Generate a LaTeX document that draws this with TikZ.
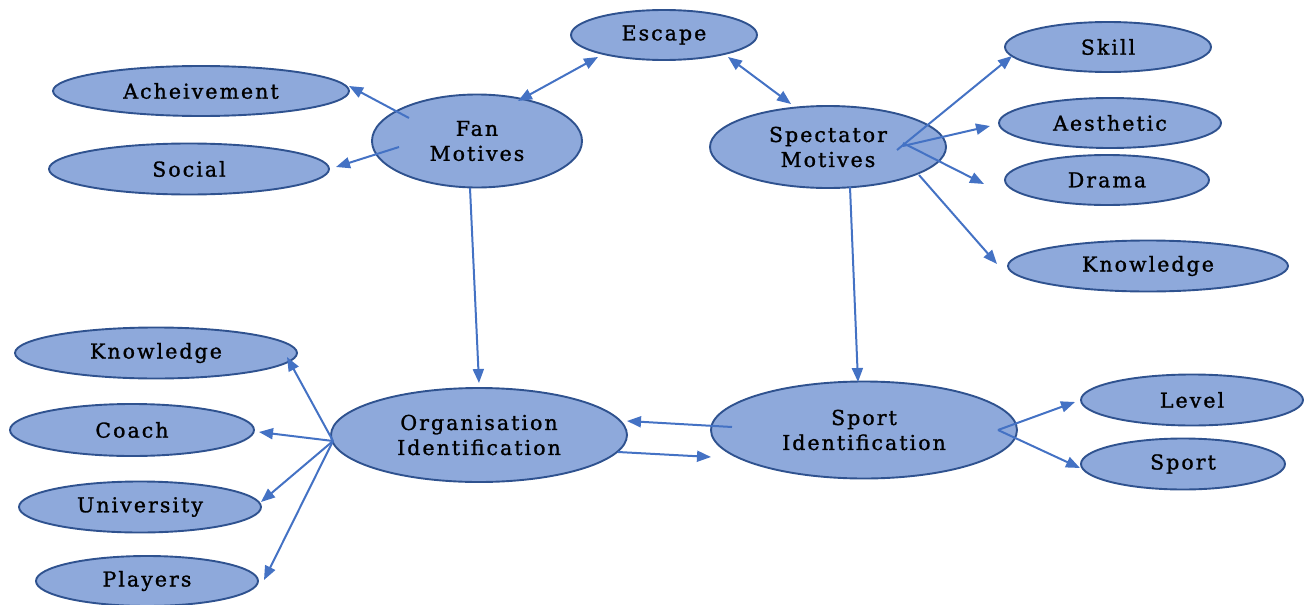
\documentclass[tikz,border=0pt]{standalone}
\usepackage{fontspec}
\setmainfont{DejaVu Serif}[LetterSpace=10,FakeBold=1.2]
\usetikzlibrary{arrows.meta,shapes.geometric}
\definecolor{fillb}{HTML}{8EA9DB}
\definecolor{edgeb}{HTML}{2F528F}
\definecolor{lineb}{HTML}{4472C4}
\begin{document}
\begin{tikzpicture}[x=1pt,y=-1pt,
  oval/.style={ellipse, draw=edgeb, fill=fillb, line width=1.9pt, inner sep=0pt,
    font=\fontsize{20.5}{25}\selectfont, align=center},
  conn/.style={draw=lineb, line width=2pt, -{Triangle[length=14pt,width=11pt]}},
  biconn/.style={draw=lineb, line width=2pt, {Triangle[length=14pt,width=11pt]}-{Triangle[length=14pt,width=11pt]}}]
\useasboundingbox (0,0) rectangle (1312,605);
\clip (0,0) rectangle (1312,605);
\newcommand{\ov}[6]{\node[oval, minimum width=#4pt, minimum height=#5pt] (#1) at (#2,#3) {#6};}
\ov{escape}{664}{35}{186}{50}{Escape}
\ov{ach}{201}{91}{296}{50}{Acheivement}
\ov{social}{189}{169}{280}{51}{Social}
\ov{fan}{477}{141}{210}{93}{Fan\\Motives}
\ov{spec}{828}{147}{236}{82}{Spectator\\Motives}
\ov{skill}{1108}{47}{206}{50}{Skill}
\ov{aes}{1110}{123}{222}{50}{Aesthetic}
\ov{drama}{1107}{180}{204}{50}{Drama}
\ov{knowr}{1148}{266}{280}{51}{Knowledge}
\ov{knowl}{156}{353}{282}{51}{Knowledge}
\ov{coach}{132}{430}{244}{52}{Coach}
\ov{univ}{140}{507}{242}{51}{University}
\ov{players}{147}{581}{222}{50}{Players}
\ov{org}{479}{435}{296}{94}{Organisation\\Identification}
\ov{sport}{864}{430}{306}{97}{Sport\\Identification}
\ov{level}{1192}{400}{222}{51}{Level}
\ov{sportb}{1183}{464}{204}{51}{Sport}
% connector points
\coordinate (fa1) at (409,118); \coordinate (fa1e) at (349,86);
\coordinate (fa2) at (399,147); \coordinate (fa2e) at (336,167);
\coordinate (ef1) at (598,57); \coordinate (ef2) at (518,101);
\coordinate (es1) at (728,57); \coordinate (es2) at (791,104);
\coordinate (fo1) at (470,188); \coordinate (fo2) at (479,383);
\coordinate (ss1) at (850,187); \coordinate (ss2) at (858,382);
\coordinate (sp1) at (897,150); \coordinate (sp1e) at (1012,56);
\coordinate (sp2) at (903,146); \coordinate (sp2e) at (990,126);
\coordinate (sp3) at (903,143); \coordinate (sp3e) at (984,184);
\coordinate (sp4) at (919,175); \coordinate (sp4e) at (997,264);
\coordinate (so1) at (732,427); \coordinate (so1e) at (627,421);
\coordinate (os1) at (618,452); \coordinate (os1e) at (711,457);
\coordinate (oh) at (333,441);
\coordinate (okn) at (287,357); \coordinate (oco) at (259,432);
\coordinate (oun) at (261,502); \coordinate (opl) at (264,580);
\coordinate (sh) at (998,430);
\coordinate (sle) at (1075,402); \coordinate (sse) at (1080,468);
\draw[conn] (fa1) -- (fa1e);
\draw[conn] (fa2) -- (fa2e);
\draw[biconn] (ef1) -- (ef2);
\draw[biconn] (es1) -- (es2);
\draw[conn] (fo1) -- (fo2);
\draw[conn] (ss1) -- (ss2);
\draw[conn] (sp1) -- (sp1e);
\draw[conn] (sp2) -- (sp2e);
\draw[conn] (sp3) -- (sp3e);
\draw[conn] (sp4) -- (sp4e);
\draw[conn] (so1) -- (so1e);
\draw[conn] (os1) -- (os1e);
\draw[conn] (oh) -- (okn);
\draw[conn] (oh) -- (oco);
\draw[conn] (oh) -- (oun);
\draw[conn] (oh) -- (opl);
\draw[conn] (sh) -- (sle);
\draw[conn] (sh) -- (sse);
\end{tikzpicture}
\end{document}
